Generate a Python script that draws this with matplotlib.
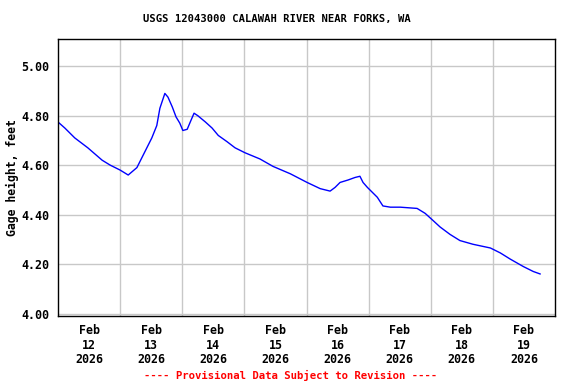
import matplotlib
matplotlib.use("Agg")
import matplotlib.pyplot as plt
from matplotlib.ticker import FixedLocator, FuncFormatter

# days since Feb 12 2026 00:00 and gage height (ft)
days = [0.02, 0.11, 0.27, 0.48, 0.71, 0.84, 1.00, 1.13, 1.27, 1.35, 1.45, 1.51,
        1.59, 1.64, 1.72, 1.77, 1.84, 1.90, 1.96, 2.01, 2.08, 2.13, 2.19, 2.25,
        2.37, 2.48, 2.58, 2.72, 2.85, 3.01, 3.25, 3.46, 3.74, 4.01, 4.22, 4.38,
        4.46, 4.54, 4.67, 4.78, 4.86, 4.91, 4.98, 5.06, 5.14, 5.23, 5.35, 5.51,
        5.78, 5.91, 6.02, 6.15, 6.31, 6.47, 6.68, 6.96, 7.12, 7.28, 7.49, 7.65,
        7.76]
gage = [4.77, 4.75, 4.71, 4.67, 4.62, 4.60, 4.58, 4.56, 4.59, 4.63, 4.68, 4.71,
        4.76, 4.83, 4.89, 4.875, 4.835, 4.795, 4.77, 4.74, 4.745, 4.775, 4.81, 4.80,
        4.775, 4.75, 4.72, 4.695, 4.67, 4.65, 4.625, 4.595, 4.565, 4.53, 4.505, 4.495,
        4.51, 4.53, 4.54, 4.55, 4.555, 4.53, 4.51, 4.49, 4.47, 4.435, 4.43, 4.43,
        4.425, 4.405, 4.38, 4.35, 4.32, 4.295, 4.28, 4.265, 4.245, 4.22, 4.19, 4.17,
        4.16]

day_labels = ["Feb\n12\n2026", "Feb\n13\n2026", "Feb\n14\n2026", "Feb\n15\n2026",
              "Feb\n16\n2026", "Feb\n17\n2026", "Feb\n18\n2026", "Feb\n19\n2026"]
yticks = [4.00, 4.20, 4.40, 4.60, 4.80, 5.00]

font = "DejaVu Sans Mono"

fig = plt.figure(figsize=(5.76, 3.84), dpi=100)
ax = fig.add_axes([58 / 576, 68 / 384, 497 / 576, 277 / 384])

ax.plot(days, gage, color="#0000ff", linewidth=1.0)

ax.set_xlim(0, 8)
ax.set_ylim(3.99, 5.11)

ax.xaxis.set_major_locator(FixedLocator([i + 0.5 for i in range(8)]))
ax.xaxis.set_minor_locator(FixedLocator(list(range(1, 8))))
ax.set_xticklabels(day_labels)
ax.set_yticks(yticks)
ax.yaxis.set_major_formatter(FuncFormatter(lambda v, p: f"{v:.2f}"))

ax.grid(True, which="minor", axis="x", color="#c8c8c8", linewidth=1.0)
ax.grid(True, which="major", axis="y", color="#c8c8c8", linewidth=1.0)
ax.set_axisbelow(True)
ax.tick_params(which="both", length=0, pad=6)
for lab in ax.get_xticklabels() + ax.get_yticklabels():
    lab.set_fontfamily(font)
    lab.set_fontweight("bold")
    lab.set_fontsize(8.4)
    lab.set_linespacing(1.15)

for s in ax.spines.values():
    s.set_linewidth(1.0)
    s.set_color("black")

ax.set_ylabel("Gage height, feet", fontfamily=font, fontweight="bold", fontsize=8.3)
ax.yaxis.set_label_coords(-39 / 497, 0.5)
fig.text(277 / 576, 1 - 19 / 384, "USGS 12043000 CALAWAH RIVER NEAR FORKS, WA",
         ha="center", va="center", fontfamily=font, fontweight="bold", fontsize=7.6)
fig.text(291 / 576, 1 - 375 / 384, "---- Provisional Data Subject to Revision ----",
         ha="center", va="center", fontfamily=font, fontweight="bold",
         fontsize=7.7, color="#ff0000")

fig.savefig("out.png", dpi=100)
